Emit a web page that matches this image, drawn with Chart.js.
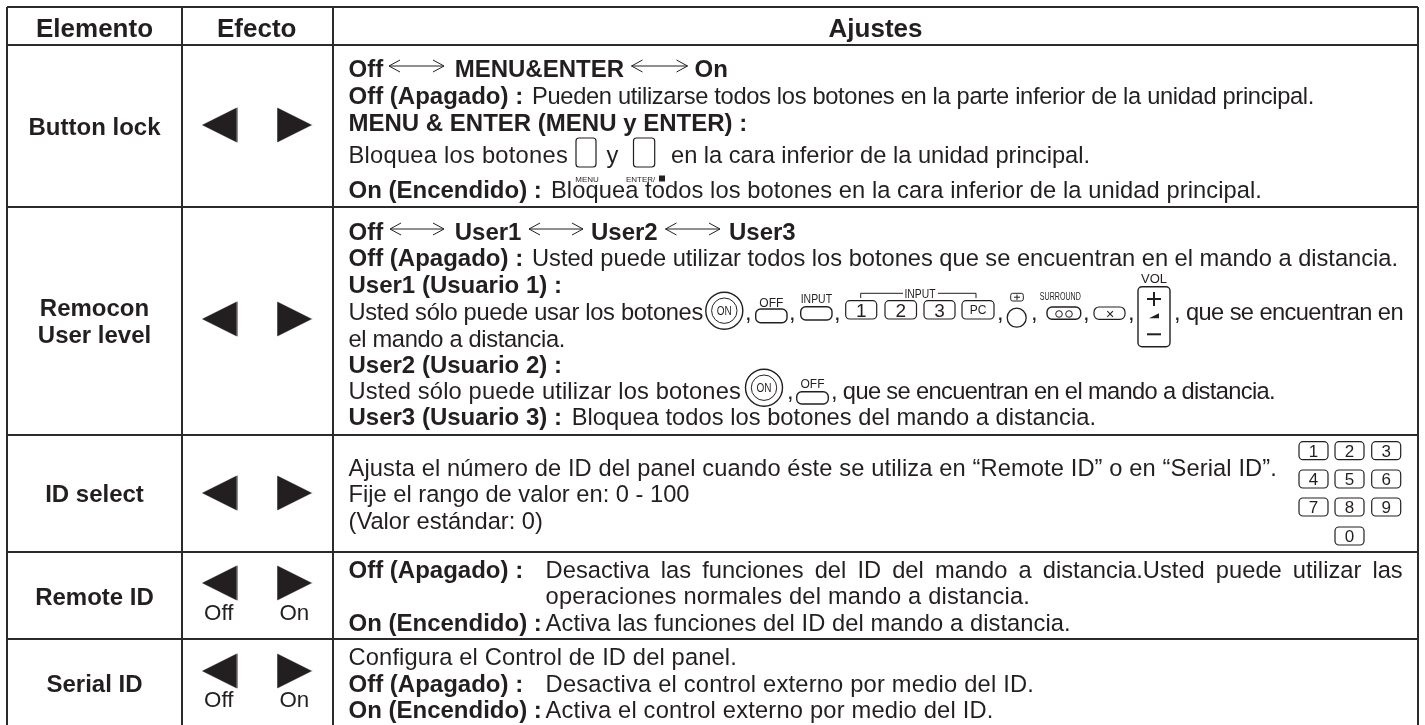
<!DOCTYPE html>
<html>
<head>
<meta charset="utf-8">
<script src="https://cdn.jsdelivr.net/npm/chart.js@4"></script>
<style>
  html, body { margin: 0; padding: 0; background: #fff; }
  #tableChart { display: block; filter: blur(0.4px); }
</style>
</head>
<body>
<canvas id="tableChart" width="1425" height="725"></canvas>
<script>
// table content
const headers = ['Elemento', 'Efecto', 'Ajustes'];
const items = ['Button lock', 'Remocon', 'User level', 'ID select', 'Remote ID', 'Serial ID'];
const arrowLabels = ['Off', 'On', 'Off', 'On'];
const boldRuns = [
  'Off', 'MENU&ENTER', 'On',
  'Off (Apagado) :', 'MENU & ENTER (MENU y ENTER) :', 'On (Encendido) :',
  'Off', 'User1', 'User2', 'User3',
  'Off (Apagado) :', 'User1 (Usuario 1) :', 'User2 (Usuario 2) :', 'User3 (Usuario 3) :',
  'Off (Apagado) :', 'On (Encendido) :',
  'Off (Apagado) :', 'On (Encendido) :'
];
const plainRuns = [
  'Pueden utilizarse todos los botones en la parte inferior de la unidad principal.',
  'Bloquea los botones', 'y', 'en la cara inferior de la unidad principal.',
  'Bloquea todos los botones en la cara inferior de la unidad principal.',
  'Usted puede utilizar todos los botones que se encuentran en el mando a distancia.',
  'Usted sólo puede usar los botones', ',', ',', ',', ',', ',', ',', ',', ', que se encuentran en',
  'el mando a distancia.',
  'Usted sólo puede utilizar los botones', ',', ', que se encuentran en el mando a distancia.',
  'Bloquea todos los botones del mando a distancia.',
  'Ajusta el número de ID del panel cuando éste se utiliza en “Remote ID” o en “Serial ID”.',
  'Fije el rango de valor en: 0 - 100',
  '(Valor estándar: 0)',
  'Desactiva las funciones del ID del mando a distancia.Usted puede utilizar las',
  'operaciones normales del mando a distancia.',
  'Activa las funciones del ID del mando a distancia.',
  'Configura el Control de ID del panel.',
  'Desactiva el control externo por medio del ID.',
  'Activa el control externo por medio del ID.'
];
const inputKeys = ['1', '2', '3', 'PC'];
const keypadKeys = ['1', '2', '3', '4', '5', '6', '7', '8', '9', '0'];

// column and row edges, arrow rows (axis units)
const columnEdges = [7, 181.5, 332.5, 1418];
const rowEdges = [7, 44.5, 207, 435, 552, 639];
const arrowRows = [125, 319, 493, 583, 671];
const arrowLeftX = 219.5;
const arrowRightX = 294.5;

// where the text goes: x, baseline, and for plain runs the x where the run ends
const headerAt = [[94.5, 37], [256.7, 37], [875.5, 37]];
const itemAt = [[94.5, 135], [94.5, 316], [94.5, 343.3], [94.5, 501.7], [94.5, 605], [94.5, 691.7]];
const arrowLabelAt = [[218.7, 620], [294.3, 620], [218.7, 706.7], [294.3, 706.7]];
const boldAt = [
  [348.5, 77], [454.7, 77], [694.5, 77],
  [348.5, 104], [348.5, 130.7], [348.5, 198],
  [348.5, 240], [454.7, 240], [591, 240], [729, 240],
  [348.5, 266], [348.5, 292.7], [348.5, 372.7], [348.5, 425],
  [348.5, 577.7], [348.5, 631],
  [348.5, 691.7], [348.5, 718]
];
const plainAt = [
  [532, 104, 1314], [348.5, 163, 568], [606.5, 163], [671, 163, 1090], [551, 198, 1262],
  [532, 266, 1398], [348.5, 320, 703], [745, 320], [789, 320], [834, 320], [997, 320], [1031, 320], [1083, 320], [1128, 320], [1174, 320, 1403],
  [348.5, 346.7, 565], [348.5, 399, 741], [787, 399], [831, 399, 1275], [571.7, 425, 1096],
  [348.5, 475.7, 1277], [348.5, 502], [348.5, 529],
  [545.6, 577.7, 1402.7, true], [545.6, 604, 1030], [545.6, 631, 1070.7],
  [348.5, 665, 737], [545.6, 691.7, 1034], [545.6, 718, 993.5]
];
const doubleArrows = [
  [389, 444, 66], [631.5, 687.5, 66],
  [390, 444, 229], [529, 583, 229], [665.5, 720, 229]
];

const inkColor = '#231f20';

function arrowImage(pointsLeft) {
  const c = document.createElement('canvas');
  c.width = 36;
  c.height = 36;
  const g = c.getContext('2d');
  g.fillStyle = inkColor;
  g.beginPath();
  g.moveTo(pointsLeft ? 0.5 : 35.5, 18);
  g.lineTo(pointsLeft ? 35.5 : 0.5, 0.5);
  g.lineTo(pointsLeft ? 35.5 : 0.5, 35.5);
  g.closePath();
  g.fill();
  return c;
}

const tableText = {
  id: 'tableText',
  afterDatasetsDraw(chart) {
    const ctx = chart.ctx;
    const X = v => chart.scales.x.getPixelForValue(v);
    const Y = v => chart.scales.y.getPixelForValue(v);

    function text(str, at, font, align, maxW) {
      ctx.font = font;
      ctx.textAlign = align || 'left';
      ctx.textBaseline = 'alphabetic';
      ctx.fillStyle = inkColor;
      ctx.wordSpacing = '0px';
      ctx.letterSpacing = '0px';
      // stretch the run to the end measured on the picture
      if (at[2]) {
        const extra = at[2] - at[0] - ctx.measureText(str).width;
        if (at[3]) ctx.wordSpacing = extra / (str.split(' ').length - 1) + 'px';
        else ctx.letterSpacing = extra / str.length + 'px';
      }
      if (maxW) ctx.fillText(str, X(at[0]), Y(at[1]), maxW);
      else ctx.fillText(str, X(at[0]), Y(at[1]));
      ctx.wordSpacing = '0px';
      ctx.letterSpacing = '0px';
    }
    function box(x0, x1, y0, y1, r, lw) {
      ctx.beginPath();
      ctx.roundRect(X(x0), Y(y0), x1 - x0, y1 - y0, r);
      ctx.lineWidth = lw || 1.2;
      ctx.strokeStyle = inkColor;
      ctx.stroke();
    }
    function circle(x, y, r, lw) {
      ctx.beginPath();
      ctx.arc(X(x), Y(y), r, 0, Math.PI * 2);
      ctx.lineWidth = lw || 1.2;
      ctx.strokeStyle = inkColor;
      ctx.stroke();
    }
    function line(x0, y0, x1, y1, lw) {
      ctx.beginPath();
      ctx.moveTo(X(x0), Y(y0));
      ctx.lineTo(X(x1), Y(y1));
      ctx.lineWidth = lw || 1;
      ctx.strokeStyle = inkColor;
      ctx.stroke();
    }
    function onButton(x, y) {
      circle(x, y, 18.5, 1.4);
      circle(x, y, 12.7, 1);
      text('ON', [x, y + 4.5], '12px "Liberation Sans"', 'center', 15);
    }
    function offButton(x0, x1, y0, y1, label, labelY) {
      box(x0, x1, y0, y1, 5, 1.4);
      text(label, [(x0 + x1) / 2, labelY], '12px "Liberation Sans"', 'center', x1 - x0);
    }
    function key(x0, x1, y0, y1, label, size) {
      box(x0, x1, y0, y1, 4);
      text(label, [(x0 + x1) / 2, (y0 + y1) / 2 + size * 0.36], size + 'px "Liberation Sans"', 'center');
    }

    const bold = '700 24px "Liberation Sans"';
    const plain = '23.7px "Liberation Sans"';

    headers.forEach((h, i) => text(h, headerAt[i], '700 26px "Liberation Sans"', 'center'));
    items.forEach((t, i) => text(t, itemAt[i], bold, 'center'));
    arrowLabels.forEach((t, i) => text(t, arrowLabelAt[i], '22.3px "Liberation Sans"', 'center'));
    boldRuns.forEach((t, i) => text(t, boldAt[i], bold));
    plainRuns.forEach((t, i) => text(t, plainAt[i], plain));

    doubleArrows.forEach(a => {
      line(a[0], a[2], a[1], a[2]);
      line(a[0], a[2], a[0] + 11, a[2] - 6);
      line(a[0], a[2], a[0] + 11, a[2] + 6);
      line(a[1], a[2], a[1] - 11, a[2] - 6);
      line(a[1], a[2], a[1] - 11, a[2] + 6);
    });

    // MENU / ENTER keys of the first row
    box(576, 596, 138, 167, 3);
    box(633.5, 654.7, 138, 167, 3);
    text('MENU', [587, 181.5], '8px "Liberation Sans"', 'center');
    text('ENTER/', [626, 181.5], '8px "Liberation Sans"');
    ctx.fillStyle = inkColor;
    ctx.fillRect(X(659), Y(175.5), 6, 6);

    // remote buttons of the User1 line
    onButton(724.3, 310.7);
    offButton(755.7, 787, 309, 322.7, 'OFF', 306.7);
    offButton(800.7, 832, 306.7, 320, 'INPUT', 302.7);
    const keyLeft = [845.7, 885, 924, 962];
    const keyRight = [876.7, 916.5, 955, 994];
    inputKeys.forEach((k, i) => key(keyLeft[i], keyRight[i], 300.7, 319, k, k === 'PC' ? 12 : 19));
    line(860.7, 298, 860.7, 293.3);
    line(860.7, 293.3, 903, 293.3);
    text('INPUT', [920, 298], '13px "Liberation Sans"', 'center', 31);
    line(938, 293.3, 976, 293.3);
    line(976, 293.3, 976, 298);
    circle(1016.7, 317.7, 9.5, 1.3);
    box(1010.7, 1023.3, 293.3, 301, 2, 1);
    line(1014, 297.2, 1020, 297.2);
    line(1017, 294.5, 1017, 300);
    text('SURROUND', [1060.3, 300], '10px "Liberation Sans"', 'center', 41);
    box(1047, 1080.7, 307, 319.3, 5, 1.4);
    circle(1059, 314, 3.3, 1);
    circle(1069, 314, 3.3, 1);
    box(1094, 1125, 307, 319.3, 5, 1.2);
    text('✕', [1110, 317.5], '11px "DejaVu Sans"', 'center');
    box(1138, 1170, 286.7, 346.7, 4, 1.4);
    text('VOL', [1154, 283.3], '13px "Liberation Sans"', 'center');
    line(1147, 299, 1161, 299, 2);
    line(1154, 292, 1154, 306, 2);
    line(1147, 334.3, 1161, 334.3, 2);
    ctx.beginPath();
    ctx.moveTo(X(1149), Y(318.3));
    ctx.lineTo(X(1159), Y(313.3));
    ctx.lineTo(X(1159), Y(318.3));
    ctx.closePath();
    ctx.fill();

    // remote buttons of the User2 line
    onButton(764, 387.7);
    offButton(796.7, 828.3, 391.7, 404, 'OFF', 388);

    // number keys of ID select
    const padX = [1299, 1335, 1371.7];
    const padY = [441.7, 470, 498];
    keypadKeys.forEach((k, i) => {
      const col = k === '0' ? 1 : i % 3;
      const y0 = k === '0' ? 527 : padY[Math.floor(i / 3)];
      key(padX[col], padX[col] + 29, y0, y0 + 18, k, 17);
    });
  }
};

new Chart(document.getElementById('tableChart').getContext('2d'), {
  type: 'scatter',
  data: {
    datasets: [
      {
        data: arrowRows.map(y => ({ x: arrowLeftX, y: y })),
        pointStyle: arrowImage(true),
        pointRadius: 18
      },
      {
        data: arrowRows.map(y => ({ x: arrowRightX, y: y })),
        pointStyle: arrowImage(false),
        pointRadius: 18
      }
    ]
  },
  options: {
    responsive: false,
    animation: false,
    events: [],
    layout: { autoPadding: false, padding: { left: 7, top: 7, right: 7, bottom: 0 } },
    plugins: { legend: { display: false }, tooltip: { enabled: false } },
    scales: {
      x: {
        type: 'linear',
        min: 7,
        max: 1418,
        afterBuildTicks: axis => { axis.ticks = columnEdges.map(v => ({ value: v })); },
        ticks: { display: false },
        border: { display: false },
        grid: { color: '#2b2b2b', lineWidth: 2, drawTicks: false }
      },
      y: {
        type: 'linear',
        reverse: true,
        min: 7,
        max: 725,
        afterBuildTicks: axis => { axis.ticks = rowEdges.map(v => ({ value: v })); },
        ticks: { display: false },
        border: { display: false },
        grid: { color: '#2b2b2b', lineWidth: 2, drawTicks: false }
      }
    }
  },
  plugins: [tableText]
});
</script>
</body>
</html>
